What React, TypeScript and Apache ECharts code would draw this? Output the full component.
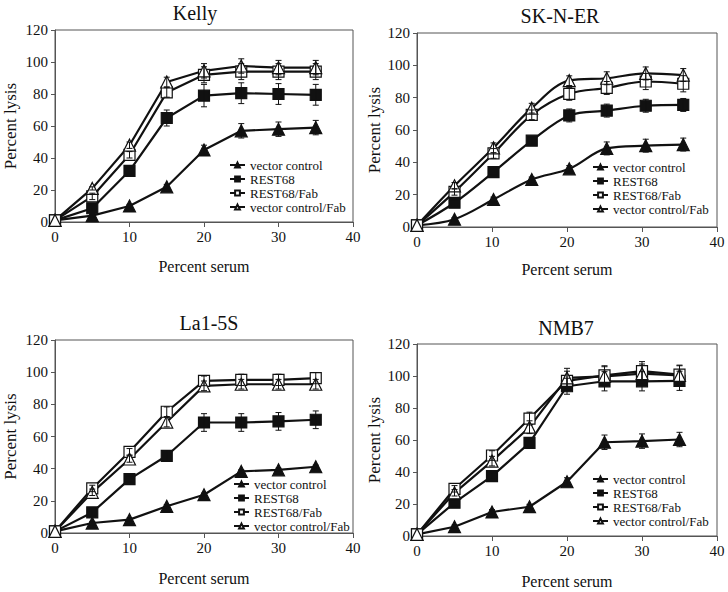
import React, { useEffect, useRef } from "react";
import * as echarts from "echarts";

// ---- data ----
const SERIES_NAMES = ["vector control", "REST68", "REST68/Fab", "vector control/Fab"];
const TITLES = ["Kelly", "SK-N-ER", "La1-5S", "NMB7"];
const X_NAME = "Percent serum";
const Y_NAME = "Percent lysis";

const SERUM = [0, 5, 10, 15, 20, 25, 30, 35];
const SERUM_SK = [0, 5, 10.2, 15.3, 20.3, 25.3, 30.5, 35.5];

// Kelly
const KELLY_VC = [1, 4, 10, 22, 45, 57, 58, 59];
const KELLY_VC_ERR = [0, 1, 1, 1.5, 3, 4.5, 4.5, 4.5];
const KELLY_R = [1, 8.6, 32, 65, 79, 80.5, 80, 79.5];
const KELLY_R_ERR = [0, 2, 2, 5, 7, 6.5, 6.5, 6.5];
const KELLY_RF = [1, 16, 42, 81, 92, 94, 94, 94];
const KELLY_RF_ERR = [0, 2, 2, 3, 5, 5, 5, 5];
const KELLY_VF = [1, 21, 48, 87.5, 94.5, 97.5, 96.5, 96.5];
const KELLY_VF_ERR = [0, 1, 2, 3, 4.5, 4.5, 4.5, 4.5];

// SK-N-ER
const SK_VC = [1, 4.8, 17, 29.4, 36, 48.6, 50.3, 51];
const SK_VC_ERR = [0, 1, 1.5, 1.5, 2, 4, 4, 4];
const SK_R = [1, 15, 34, 53.4, 69, 72, 75, 75.5];
const SK_R_ERR = [0, 2, 2, 2, 4, 4, 4, 4];
const SK_RF = [1, 21.7, 45.5, 69.4, 82.4, 86, 90, 88.6];
const SK_RF_ERR = [0, 2, 3, 3, 4, 4, 5, 5];
const SK_VF = [1, 25.5, 49, 73.5, 90.5, 92, 95, 94];
const SK_VF_ERR = [0, 2, 3, 3, 3, 4, 4, 4];

// La1-5S
const LA_VC = [1, 6.2, 8.3, 16.6, 23.8, 38.3, 39.3, 41.2];
const LA_VC_ERR = [0, 1, 1, 1, 1, 1, 1, 1];
const LA_R = [1, 12.8, 33.5, 48, 68.7, 68.7, 69.4, 70.4];
const LA_R_ERR = [0, 2, 2, 3, 5.5, 5.5, 5.5, 5.5];
const LA_RF = [1, 27.7, 50.5, 75.4, 94.6, 95.2, 95.2, 96.3];
const LA_RF_ERR = [0, 2, 2, 3, 3, 3.5, 3.5, 3.5];
const LA_VF = [1, 25.3, 46, 69, 91.5, 92.5, 92.5, 92.5];
const LA_VF_ERR = [0, 2, 2, 3, 3, 3, 3, 3];

// NMB7
const NMB_VC = [1, 5.8, 15, 18.3, 33.9, 58.6, 59.3, 60.3];
const NMB_VC_ERR = [0, 1, 1.5, 1.5, 2.5, 4.5, 4.5, 4.5];
const NMB_R = [1, 20.8, 37.4, 58.2, 93.6, 96.7, 96.7, 97];
const NMB_R_ERR = [0, 2, 2, 3, 5, 6, 6, 6];
const NMB_RF = [1, 29.5, 50.3, 73.4, 97, 100.4, 103, 100.8];
const NMB_RF_ERR = [0, 2, 3, 4, 6, 6, 6, 6];
const NMB_VF = [1, 27, 46.8, 68, 98.8, 99.8, 101.5, 100.4];
const NMB_VF_ERR = [0, 2, 3, 4, 6, 6, 6, 6];

const PANELS = [
  { title: TITLES[0], x: SERUM, vals: [KELLY_VC, KELLY_R, KELLY_RF, KELLY_VF], errs: [KELLY_VC_ERR, KELLY_R_ERR, KELLY_RF_ERR, KELLY_VF_ERR], smooth: false },
  { title: TITLES[1], x: SERUM_SK, vals: [SK_VC, SK_R, SK_RF, SK_VF], errs: [SK_VC_ERR, SK_R_ERR, SK_RF_ERR, SK_VF_ERR], smooth: true },
  { title: TITLES[2], x: SERUM, vals: [LA_VC, LA_R, LA_RF, LA_VF], errs: [LA_VC_ERR, LA_R_ERR, LA_RF_ERR, LA_VF_ERR], smooth: false },
  { title: TITLES[3], x: SERUM, vals: [NMB_VC, NMB_R, NMB_RF, NMB_VF], errs: [NMB_VC_ERR, NMB_R_ERR, NMB_RF_ERR, NMB_VF_ERR], smooth: false },
];

// ---- layout / style ----
const LAYOUT = [
  { grid: { left: 55, top: 30, width: 298, height: 192 }, title: { left: 195, top: 3 }, legend: { left: 229, top: 158 }, xGap: 36, yGap: 36 },
  { grid: { left: 417, top: 33, width: 300, height: 194 }, title: { left: 560, top: 6 }, legend: { left: 592, top: 160 }, xGap: 34, yGap: 34 },
  { grid: { left: 55, top: 340, width: 298, height: 193 }, title: { left: 209, top: 313 }, legend: { left: 233, top: 477 }, xGap: 37, yGap: 36 },
  { grid: { left: 417, top: 344, width: 300, height: 192 }, title: { left: 566, top: 318 }, legend: { left: 592, top: 472 }, xGap: 37, yGap: 34 },
];

const SYMBOLS = ["triangle", "rect", "rect", "triangle"];
const FILLS = ["#111", "#111", "#fff", "#fff"];
const SIZES = [12, 11, 11, 12];
const FONT = "Liberation Serif";
const INK = "#111";
const AXIS = "#555";

function buildOption() {
  const series: any[] = [];
  PANELS.forEach((p, pi) => {
    p.vals.forEach((vals, si) => {
      series.push({
        type: "line",
        name: SERIES_NAMES[si],
        xAxisIndex: pi,
        yAxisIndex: pi,
        data: p.x.map((xv, k) => [xv, vals[k]]),
        symbol: SYMBOLS[si],
        symbolSize: SIZES[si],
        smooth: p.smooth ? 0.35 : false,
        lineStyle: { color: INK, width: 2.2 },
        itemStyle: { color: FILLS[si], borderColor: INK, borderWidth: 1.2 },
        z: 3,
      });
      const err = p.errs[si];
      series.push({
        type: "custom",
        xAxisIndex: pi,
        yAxisIndex: pi,
        silent: true,
        z: 4,
        data: p.x
          .map((xv, k) => [xv, vals[k] - err[k], vals[k] + err[k], err[k]])
          .filter((d) => d[3] > 0),
        renderItem: (params: any, api: any) => {
          const x = api.value(0);
          const lo = api.coord([x, api.value(1)]);
          const hi = api.coord([x, api.value(2)]);
          const style = { stroke: INK, lineWidth: 1 };
          return {
            type: "group",
            children: [
              { type: "line", shape: { x1: lo[0], y1: lo[1], x2: hi[0], y2: hi[1] }, style },
              { type: "line", shape: { x1: lo[0] - 3, y1: lo[1], x2: lo[0] + 3, y2: lo[1] }, style },
              { type: "line", shape: { x1: hi[0] - 3, y1: hi[1], x2: hi[0] + 3, y2: hi[1] }, style },
            ],
          };
        },
      });
    });
  });

  return {
    animation: false,
    backgroundColor: "#fff",
    textStyle: { fontFamily: FONT },
    title: PANELS.map((p, i) => ({
      text: p.title,
      left: LAYOUT[i].title.left,
      top: LAYOUT[i].title.top,
      textAlign: "center",
      padding: 0,
      textStyle: { fontSize: 20, fontWeight: "normal", fontFamily: FONT, color: INK },
    })),
    legend: PANELS.map((_, i) => ({
      data: SERIES_NAMES,
      orient: "vertical",
      left: LAYOUT[i].legend.left,
      top: LAYOUT[i].legend.top,
      padding: 0,
      itemGap: 0,
      itemWidth: 15,
      itemHeight: 6,
      selectedMode: false,
      textStyle: { fontSize: 13, lineHeight: 14, fontFamily: FONT, color: INK },
    })),
    grid: LAYOUT.map((l) => ({ ...l.grid, show: true, borderColor: AXIS, borderWidth: 1, backgroundColor: "transparent" })),
    xAxis: PANELS.map((_, i) => ({
      type: "value",
      gridIndex: i,
      min: 0,
      max: 40,
      interval: 10,
      name: X_NAME,
      nameLocation: "middle",
      nameGap: LAYOUT[i].xGap,
      nameTextStyle: { fontSize: 16, fontFamily: FONT, color: INK },
      axisLine: { show: true, onZero: false, lineStyle: { color: AXIS, width: 1 } },
      axisTick: { show: true, length: 5, lineStyle: { color: AXIS } },
      axisLabel: { margin: 7, fontSize: 15, fontFamily: FONT, color: INK },
      splitLine: { show: false },
    })),
    yAxis: PANELS.map((_, i) => ({
      type: "value",
      gridIndex: i,
      min: 0,
      max: 120,
      interval: 20,
      name: Y_NAME,
      nameLocation: "middle",
      nameGap: LAYOUT[i].yGap,
      nameTextStyle: { fontSize: 17, fontFamily: FONT, color: INK },
      axisLine: { show: true, onZero: false, lineStyle: { color: AXIS, width: 1 } },
      axisTick: { show: true, length: 4, lineStyle: { color: AXIS } },
      axisLabel: { margin: 7, fontSize: 15, fontFamily: FONT, color: INK },
      splitLine: { show: false },
    })),
    series,
  };
}

export default function App() {
  const ref = useRef<HTMLDivElement>(null);
  useEffect(() => {
    if (!ref.current) return;
    const chart = echarts.init(ref.current, null, { renderer: "svg" });
    chart.setOption(buildOption() as any);
    return () => chart.dispose();
  }, []);
  return (
    <div
      ref={ref}
      style={{ position: "absolute", left: 0, top: 0, width: 728, height: 592, background: "#fff" }}
    />
  );
}
